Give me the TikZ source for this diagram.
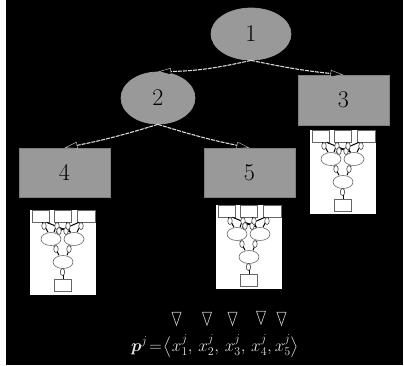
\documentclass[tikz,border=0pt]{standalone}
\usepackage{amsmath}
\usetikzlibrary{shapes.geometric,arrows.meta,backgrounds}
\definecolor{nodegray}{gray}{0.6}
\tikzset{
  round/.style={ellipse,fill=nodegray,draw=black!40,line width=.7pt,inner sep=0pt,font=\fontsize{24}{26}\selectfont,text=black},
  sq/.style={rectangle,fill=nodegray,draw=black!50,line width=.4pt,inner sep=0pt,font=\fontsize{24}{26}\selectfont,text=black},
  link/.style={draw=white!85!black,line width=1.1pt,dash pattern=on 4pt off 1pt,
    -{Triangle[open,length=13pt,width=7pt,line width=.5pt,color=white!70!black,fill=black]}},
  tri/.style={isosceles triangle,isosceles triangle apex angle=36,isosceles triangle stretches,shape border rotate=270,draw=white!75!black,line width=.7pt,inner sep=0pt,minimum width=9pt,minimum height=13pt},
  sheet/.style={rectangle,fill=white,draw=none,inner sep=0pt},
  mbox/.style={rectangle,fill=white,draw=black!60,line width=.6pt,inner sep=0pt},
  mell/.style={ellipse,fill=white,draw=black!60,line width=.6pt,inner sep=0pt,minimum width=20pt,minimum height=13pt},
  mmark/.style={ellipse,fill=white,draw=black!75,line width=.6pt,inner sep=0pt,minimum width=4.5pt,minimum height=7pt},
  medge/.style={draw=black,line width=1pt}
}
% mini tree: #1 = prefix, #2,#3 = top-left corner of the white sheet, #4 = sheet height
\newcommand{\minitree}[4]{%
\begin{scope}[shift={(#2,#3)}]
  \node[sheet,minimum width=66pt,minimum height=#4pt,anchor=north west] (#1s) at (0,0) {};
  \node[mbox,minimum width=17pt,minimum height=12pt] (#1a) at (10.5,6) {};
  \node[mbox,minimum width=17pt,minimum height=12pt] (#1b) at (32.5,6) {};
  \node[mbox,minimum width=18pt,minimum height=12pt] (#1c) at (56,6) {};
  \node[mell] (#1l) at (21,29) {};
  \node[mell] (#1r) at (44,29) {};
  \node[mell] (#1d) at (33,52) {};
  \node[mbox,minimum width=17pt,minimum height=12pt] (#1e) at (33,75) {};
  \draw[medge] ([xshift=2pt]#1a.south) -- ([xshift=-3pt]#1l.north);
  \draw[medge] ([xshift=6pt]#1a.south) -- ([xshift=-3pt]#1r.north);
  \draw[medge] ([xshift=-5pt]#1b.south) -- ([xshift=3pt]#1l.north);
  \draw[medge] ([xshift=4pt]#1b.south) -- ([xshift=-4pt]#1r.north);
  \draw[medge] ([xshift=-7pt]#1c.south) -- ([xshift=5pt]#1l.north);
  \draw[medge] ([xshift=-4pt]#1c.south) -- ([xshift=3pt]#1r.north);
  \draw[medge] ([xshift=3pt]#1l.south) -- ([xshift=-4pt]#1d.north);
  \draw[medge] ([xshift=-3pt]#1r.south) -- ([xshift=4pt]#1d.north);
  \draw[medge] (#1d.south) -- (#1e.north);
  \foreach \mx/\my in {14/16,27/16,29/21,36/21,38/16,51/16,26/39,39/39,32.5/62}{
    \node[mmark] at (\mx,\my) {};
  }
\end{scope}}
\begin{document}
\begin{tikzpicture}[x=1pt,y=-1pt]
\useasboundingbox (0,0) rectangle (404,365);
\fill[white] (0,0) rectangle (404,365);
\fill[black] (6,0) rectangle (403,365);
\node[round,minimum width=80pt,minimum height=52pt] (n1) at (251,34) {1};
\node[round,minimum width=74pt,minimum height=52pt] (n2) at (158,98) {2};
\node[sq,minimum width=91pt,minimum height=50pt] (n3) at (343.5,100) {3};
\node[sq,minimum width=91pt,minimum height=49pt] (n4) at (64.5,172.5) {4};
\node[sq,minimum width=91pt,minimum height=49pt] (n5) at (249.5,172.5) {5};
\draw[link] (n1.south) to[bend left=6] (n2.north);
\draw[link] (n1.south) to[bend right=3] (n3.north);
\draw[link] (n2.south) to[bend left=3] (n4.north);
\draw[link] (n2.south) to[bend right=3] (n5.north);
\minitree{p}{310}{130}{84}
\minitree{q}{30}{210}{85}
\minitree{r}{216}{205}{84}
\node[tri] (t1) at (176.5,315.5) {};
\node[tri] (t2) at (207,315.5) {};
\node[tri] (t3) at (232.5,315.5) {};
\node[tri] (t4) at (261,314.5) {};
\node[tri] (t5) at (281.5,315.5) {};
\node[text=white!90!black,font=\fontsize{17}{19}\selectfont] (f) at (215,346)
  {$\boldsymbol{p}^{j}\!=\!\bigl\langle x_1^{j},\,x_2^{j},\,x_3^{j},\,x_4^{j},x_5^{j}\bigr\rangle$};
\end{tikzpicture}
\end{document}
